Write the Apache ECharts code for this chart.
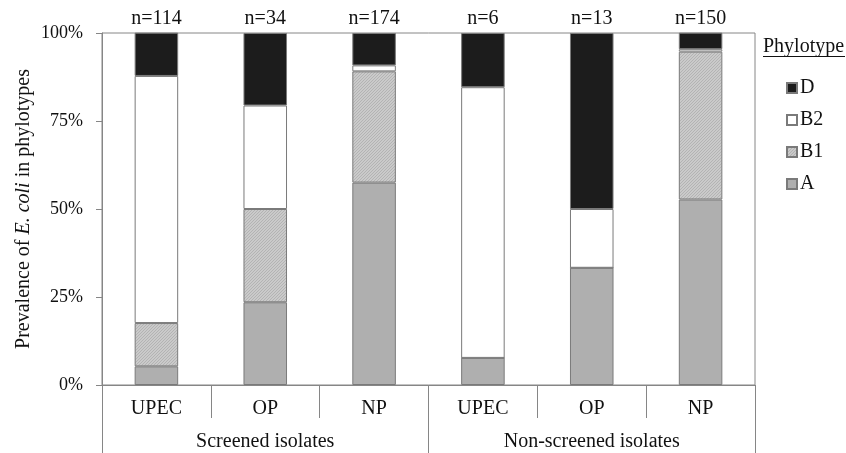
<!DOCTYPE html>
<html>
<head>
<meta charset="utf-8">
<script src="https://cdn.jsdelivr.net/npm/echarts@6/dist/echarts.min.js"></script>
<style>
  html, body { margin: 0; padding: 0; background: #fff; }
  #chart { width: 846px; height: 453px; }
</style>
</head>
<body>
<div id="chart"></div>
<script>
const categories = ['UPEC', 'OP', 'NP', 'UPEC', 'OP', 'NP']
const groups = ['Screened isolates', 'Non-screened isolates']
const nLabels = ['n=114', 'n=34', 'n=174', 'n=6', 'n=13', 'n=150']
const yTicks = [0, 25, 50, 75, 100]

// percent of isolates per phylotype
const phyloA = [5.3, 23.5, 57.5, 7.7, 33.3, 52.7]
const phyloB1 = [12.3, 26.5, 31.6, 0, 0, 42.0]
const phyloB2 = [70.2, 29.4, 1.7, 76.9, 16.7, 0.7]
const phyloD = [12.3, 20.6, 9.2, 15.4, 50.0, 4.7]

const serif = 'Liberation Serif'
const axisGray = '#868686'

// fine hatched fill for B1
const makeHatch = () => {
  const c = document.createElement('canvas')
  c.width = 3
  c.height = 3
  const ctx = c.getContext('2d')
  ctx.fillStyle = '#cacaca'
  ctx.fillRect(0, 0, 3, 3)
  ctx.fillStyle = '#b3b3b3'
  for (let i = 0; i < 3; i++) ctx.fillRect(i, 2 - i, 1, 1)
  return c
}

const chart = echarts.init(document.getElementById('chart'))

const barStyle = (color) => ({
  color: color,
  borderColor: '#7a7a7a',
  borderWidth: 1
})

const option = {
  animation: false,
  backgroundColor: '#fff',
  textStyle: { fontFamily: serif, color: '#111' },
  title: {
    text: 'Phylotype',
    left: 763,
    top: 37,
    padding: 0,
    textStyle: { fontFamily: serif, fontSize: 20, fontWeight: 'normal', color: '#111' }
  },
  graphic: [
    { type: 'line', shape: { x1: 763, y1: 56.5, x2: 845, y2: 56.5 }, style: { stroke: '#111', lineWidth: 1 } }
  ],
  legend: {
    data: ['D', 'B2', 'B1', 'A'],
    orient: 'vertical',
    left: 781,
    top: 73,
    itemWidth: 10,
    itemHeight: 10,
    itemGap: 12,
    icon: 'rect',
    textStyle: { fontFamily: serif, fontSize: 20, color: '#111', padding: [0, 0, 0, -2] }
  },
  grid: {
    left: 102,
    right: 91,
    top: 33,
    bottom: 68,
    show: true,
    borderColor: axisGray,
    borderWidth: 1
  },
  xAxis: [
    {
      type: 'category',
      data: categories,
      position: 'bottom',
      axisLine: { lineStyle: { color: axisGray } },
      axisTick: { show: true, interval: 0, length: 33, lineStyle: { color: axisGray } },
      axisLabel: { fontFamily: serif, fontSize: 20, color: '#111', margin: 14, interval: 0 }
    },
    {
      type: 'category',
      data: groups,
      position: 'bottom',
      axisLine: { show: false },
      axisTick: { show: true, interval: 0, length: 68, lineStyle: { color: axisGray } },
      axisLabel: { fontFamily: serif, fontSize: 20, color: '#111', margin: 47, interval: 0 }
    },
    {
      type: 'category',
      data: nLabels,
      position: 'top',
      axisLine: { show: false },
      axisTick: { show: false },
      axisLabel: { fontFamily: serif, fontSize: 20, color: '#111', margin: 4, interval: 0 }
    }
  ],
  yAxis: {
    type: 'value',
    name: '{n|Prevalence of }{i|E. coli}{n| in phylotypes}',
    nameLocation: 'middle',
    nameGap: 68,
    nameMoveOverlap: false,
    nameRotate: 90,
    nameTextStyle: {
      rich: {
        n: { fontFamily: serif, fontSize: 20, color: '#111' },
        i: { fontFamily: serif, fontSize: 20, color: '#111', fontStyle: 'italic' }
      }
    },
    min: yTicks[0],
    max: yTicks[yTicks.length - 1],
    interval: 25,
    axisLine: { show: true, lineStyle: { color: axisGray } },
    axisTick: { show: true, length: 6, lineStyle: { color: axisGray } },
    splitLine: { show: false },
    axisLabel: { fontFamily: serif, fontSize: 18, color: '#111', margin: 19, formatter: '{value}%' }
  },
  series: [
    { name: 'A', type: 'bar', stack: 'total', barWidth: '40%', data: phyloA, itemStyle: barStyle('#afafaf') },
    { name: 'B1', type: 'bar', stack: 'total', barWidth: '40%', data: phyloB1, itemStyle: barStyle({ image: makeHatch(), repeat: 'repeat' }) },
    { name: 'B2', type: 'bar', stack: 'total', barWidth: '40%', data: phyloB2, itemStyle: barStyle('#ffffff') },
    { name: 'D', type: 'bar', stack: 'total', barWidth: '40%', data: phyloD, itemStyle: barStyle('#1c1c1c') }
  ]
}

chart.setOption(option)
</script>
</body>
</html>
